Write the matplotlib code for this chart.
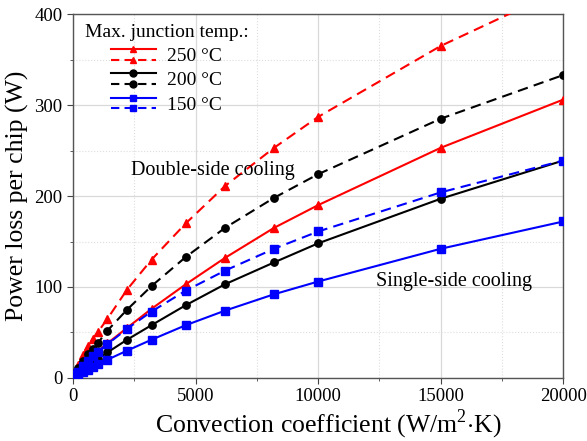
import matplotlib
matplotlib.use("Agg")
import matplotlib.pyplot as plt
from matplotlib.lines import Line2D
from matplotlib.legend_handler import HandlerBase
from matplotlib.ticker import MultipleLocator

plt.rcParams['font.family'] = ['Liberation Serif', 'DejaVu Serif']
plt.rcParams['mathtext.fontset'] = 'custom'
plt.rcParams['mathtext.rm'] = 'Liberation Serif'

h = [100, 200, 400, 600, 800, 1000, 1400, 2200, 3200, 4600, 6200, 8200, 10000, 15000, 20000]

# Double-side cooling (dashed)
d250 = [8, 14, 25, 35, 43, 50, 65, 97, 130, 170, 211, 253, 287, 365, 428]
d200 = [6, 11, 19, 26, 32, 38, 52, 75, 101, 133, 165, 198, 224, 285, 333]
d150 = [4, 7, 13, 19, 24, 29, 37, 54, 73, 96, 118, 142, 161, 204, 239]
# Single-side cooling (solid)
s250 = [4, 7, 13, 19, 24, 29, 38, 55, 76, 103, 132, 165, 190, 253, 306]
s200 = [3, 5, 9, 13, 17, 21, 28, 42, 58, 80, 103, 127, 148, 197, 239]
s150 = [2, 3, 6, 9, 12, 15, 20, 30, 42, 58, 74, 92, 106, 142, 172]

temps = ["250 °C", "200 °C", "150 °C"]
colors = ["#ff0000", "#000000", "#0000ff"]
markers = ["^", "o", "s"]

fig = plt.figure(figsize=(5.87, 4.41), dpi=100)
ax = fig.add_axes([0.1245, 0.143, 0.835, 0.825])

handles = []
for ys, yd, c, m in zip([s250, s200, s150], [d250, d200, d150], colors, markers):
    l1, = ax.plot(h, ys, '-', color=c, marker=m, markersize=5.3, lw=1.5, zorder=3)
    l2, = ax.plot(h, yd, '--', color=c, marker=m, markersize=5.3, lw=1.5,
                  dashes=(5, 3), zorder=3)
    handles.append((l1, l2))


class HandlerStack(HandlerBase):
    def create_artists(self, legend, orig_handle, xdescent, ydescent,
                       width, height, fontsize, trans):
        arts = []
        for i, ln in enumerate(orig_handle):
            y = height / 2 - ydescent + (3.8 if i == 0 else -3.8)
            line = Line2D([-xdescent, -xdescent + width], [y, y],
                          color=ln.get_color(), linestyle=ln.get_linestyle(),
                          lw=ln.get_linewidth())
            if ln.get_linestyle() == '--':
                line.set_dashes((4, 2.5))
            mk = Line2D([-xdescent + width / 2], [y], marker=ln.get_marker(),
                        color=ln.get_color(), markersize=5, linestyle='None')
            for a in (line, mk):
                a.set_transform(trans)
                arts.append(a)
        return arts


leg = ax.legend(handles, temps, handler_map={tuple: HandlerStack()},
                title="Max. junction temp.:", loc='upper left',
                bbox_to_anchor=(0.0, 1.005), frameon=False, fontsize=14,
                title_fontsize=14, handlelength=2.3, handleheight=1.0,
                labelspacing=0.25, handletextpad=0.6, borderaxespad=0.2)
leg._legend_box.align = "center"

ax.text(2370, 228, "Double-side cooling", fontsize=14.5, va='center', ha='left')
ax.text(12370, 106, "Single-side cooling", fontsize=14.5, va='center', ha='left')

ax.set_xlim(0, 20000)
ax.set_ylim(0, 400)
ax.xaxis.set_major_locator(MultipleLocator(5000))
ax.xaxis.set_minor_locator(MultipleLocator(2500))
ax.yaxis.set_major_locator(MultipleLocator(100))
ax.yaxis.set_minor_locator(MultipleLocator(50))
ax.grid(which='major', color='#d9d9d9', lw=0.9, ls='-')
ax.grid(which='minor', color='#dddddd', lw=0.8, ls=':')
ax.set_axisbelow(True)
ax.tick_params(which='both', direction='out', top=False, right=False,
               labelsize=13.5, color='#444444')
ax.tick_params(which='major', length=4)
ax.tick_params(which='minor', length=2.5)
for s in ax.spines.values():
    s.set_color('#555555')
    s.set_linewidth(1.0)

ax.set_xlabel(r"Convection coefficient (W/m$^2$$\cdot$K)", fontsize=18.5, labelpad=1.5)
ax.xaxis.label.set_x(0.52)
ax.set_ylabel("Power loss per chip (W)", fontsize=18.5, labelpad=4)

fig.savefig("out.png", dpi=100)
